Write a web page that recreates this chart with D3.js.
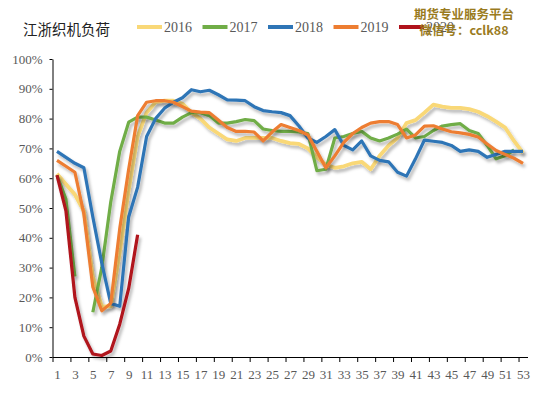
<!DOCTYPE html>
<html>
<head>
<meta charset="utf-8">
<script src="https://cdn.jsdelivr.net/npm/d3@7"></script>
<style>
  body { margin: 0; background: #fff; }
  .tick text { font-family: "Liberation Serif", "DejaVu Serif", serif; fill: #595959; }
</style>
</head>
<body>
<div id="chart"></div>
<script>
var weeks = d3.range(1, 54);
var yTicks = d3.range(0, 101, 10);
var years = ["2016", "2017", "2018", "2019", "2020"];
var colors = ["#F9D877", "#70AD47", "#2E75B6", "#ED7D31", "#B0121B"];

var v2016 = [61.5, 58, 54.5, 49, 27, 17, 17, 35, 56, 74, 82, 85.5, 86, 86, 85, 82, 80, 77, 75, 73,
  72.5, 73.5, 73.5, 73.5, 73.5, 72.5, 71.8, 71.5, 70, 67, 64.5, 63.5, 64, 65, 65.5, 63, 67.5, 71, 73.5, 78.5,
  79.5, 82, 84.7, 84, 83.6, 83.6, 83.2, 82.3, 80.8, 79, 77, 72.5, 68.5];
var v2017 = [61, 53, 27, null, 15, 30, 52, 69, 78.8, 80.5, 80.5, 79.5, 78.5, 78.5, 80.5, 82, 82, 81, 78.5, 78.5,
  79, 79.7, 79.3, 76.5, 76, 75.7, 75.7, 75.5, 75, 62.5, 63, 73.5, 74, 75, 75.7, 73.5, 72.5, 73.5, 74.8, 76.5,
  73.5, 74, 76, 77.5, 78, 78.3, 76, 75, 71, 66.5, 67.5, 69.5, null];
var v2018 = [69, 67, 65, 63.5, 47, 31.5, 18, 17, 47, 57, 74, 80, 83.5, 85.5, 87, 89.7, 89, 89.5, 88, 86.3,
  86.2, 86, 84, 82.7, 82.3, 82, 81, 77.5, 73.5, 72, 74, 76.3, 71, 69.5, 72.5, 67.5, 66, 65.5, 62, 60.7,
  66.5, 72.8, 72.4, 72, 71, 69, 69.5, 69, 67, 68, 69, 69, 69];
var v2019 = [66, 64, 62, 48, 23.5, 15.5, 18, 43, 63, 81, 85.5, 86, 86, 85.5, 84, 82.5, 82.2, 82, 79.5, 77,
  75.7, 75.7, 75.5, 72.5, 75.5, 78, 77, 76, 74.5, 69, 63.5, 67.5, 72, 75, 77, 78.5, 79, 79, 78, 73.5,
  74.5, 77.5, 77.6, 76.5, 75.6, 75.2, 74.7, 73.8, 71.5, 69.3, 68, 66.7, 65];
var v2020 = [61, 49, 20, 7, 1, 0.5, 2, 11, 23, 41];
var series = [v2016, v2017, v2018, v2019, v2020];

var width = 549, height = 399;
var margin = { left: 52.5, right: 21.5, top: 59, bottom: 42 };

var svg = d3.select("#chart").append("svg")
  .attr("width", width)
  .attr("height", height);

var defs = svg.append("defs");
defs.append("filter")
  .attr("id", "shadow")
  .attr("x", "-10%").attr("y", "-10%")
  .attr("width", "130%").attr("height", "130%")
  .append("feDropShadow")
  .attr("dx", 2).attr("dy", 3)
  .attr("stdDeviation", 1.6)
  .attr("flood-color", "#000")
  .attr("flood-opacity", 0.28);

var x = d3.scaleLinear()
  .domain([0.5, 53.5])
  .range([margin.left, width - margin.right]);
var y = d3.scaleLinear()
  .domain([0, 100])
  .range([height - margin.bottom, margin.top]);

// x axis: labels at week centres, ticks between every second week
var oddWeeks = weeks.filter(function(w) { return w % 2 == 1; });
var xLabels = svg.append("g")
  .attr("transform", "translate(0," + y(0) + ")")
  .call(d3.axisBottom(x).tickValues(oddWeeks).tickSize(0).tickPadding(13));
xLabels.select(".domain").remove();
xLabels.selectAll("text").style("font-size", "13px");

svg.append("g")
  .attr("transform", "translate(0," + y(0) + ")")
  .call(d3.axisBottom(x)
    .tickValues(oddWeeks.map(function(w) { return w - 0.5; }))
    .tickFormat("")
    .tickSizeInner(5)
    .tickSizeOuter(0))
  .selectAll("line, path").attr("stroke", "#000");

// y axis
var yAxis = svg.append("g")
  .attr("transform", "translate(" + margin.left + ",0)")
  .call(d3.axisLeft(y)
    .tickValues(yTicks)
    .tickFormat(function(d) { return d + "%"; })
    .tickSizeInner(3)
    .tickSizeOuter(0)
    .tickPadding(7));
yAxis.selectAll("line, path").attr("stroke", "#000");
yAxis.selectAll("text").style("font-size", "13px");

// lines
var line = d3.line()
  .defined(function(d) { return d != null; })
  .x(function(d, i) { return x(weeks[i]); })
  .y(function(d) { return y(d); });

svg.append("g")
  .selectAll("path")
  .data(series)
  .enter().append("path")
  .attr("d", line)
  .attr("fill", "none")
  .attr("stroke", function(d, i) { return colors[i]; })
  .attr("stroke-width", function(d, i) { return i == 0 ? 3.8 : 3.2; })
  .attr("stroke-linejoin", "round")
  .attr("filter", "url(#shadow)");

// title
svg.append("text")
  .attr("x", 23).attr("y", 35)
  .style("font-family", "'Noto Sans CJK SC', sans-serif")
  .style("font-size", "14.5px")
  .attr("fill", "#222")
  .text("江浙织机负荷");

// legend
var legend = svg.append("g")
  .selectAll("g")
  .data(years)
  .enter().append("g")
  .attr("transform", function(d, i) { return "translate(" + (137 + i * 65.5) + ",27)"; });
legend.append("line")
  .attr("x1", 0).attr("x2", 25)
  .attr("stroke", function(d, i) { return colors[i]; })
  .attr("stroke-width", 4);
legend.append("text")
  .attr("x", 27).attr("y", 5)
  .style("font-family", "'Liberation Serif', serif")
  .style("font-size", "14px")
  .attr("fill", "#595959")
  .text(function(d) { return d; });

// watermark
var mark = svg.append("g")
  .style("font-family", "'Noto Sans CJK SC', sans-serif")
  .style("font-weight", "bold")
  .attr("fill", "#9A7B1E")
  .attr("text-anchor", "middle");
mark.append("text").attr("x", 464).attr("y", 19).style("font-size", "12.5px").text("期货专业服务平台");
mark.append("text").attr("x", 464).attr("y", 35).style("font-size", "12.5px").text("微信号：cclk88");
</script>
</body>
</html>
